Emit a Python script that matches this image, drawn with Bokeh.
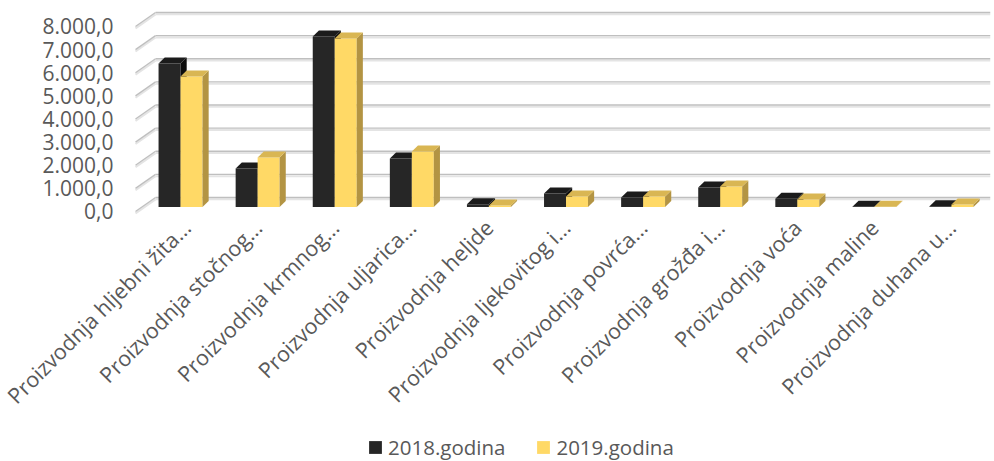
from bokeh.plotting import figure
from bokeh.layouts import column
from bokeh.models import FixedTicker, Legend, LegendItem
from bokeh.embed import file_html
from bokeh.resources import INLINE

# ---------------- data ----------------
categories = [
    "Proizvodnja hljebni žita...",
    "Proizvodnja stočnog...",
    "Proizvodnja krmnog...",
    "Proizvodnja uljarica...",
    "Proizvodnja heljde",
    "Proizvodnja ljekovitog i...",
    "Proizvodnja povrća...",
    "Proizvodnja grožđa i...",
    "Proizvodnja voća",
    "Proizvodnja maline",
    "Proizvodnja duhana u...",
]
values_2018 = [6200, 1660, 7370, 2100, 120, 580, 410, 840, 360, 10, 30]
values_2019 = [5640, 2140, 7290, 2400, 60, 450, 450, 890, 320, 15, 110]
series_names = ["2018.godina", "2019.godina"]
y_ticks = [0, 1000, 2000, 3000, 4000, 5000, 6000, 7000, 8000]
y_tick_labels = ["0,0", "1.000,0", "2.000,0", "3.000,0", "4.000,0",
                 "5.000,0", "6.000,0", "7.000,0", "8.000,0"]

# ---------------- style ----------------
FONT = "Open Sans"
TXT = "#595959"
BAR_W = 0.285        # bar width in category units
DX = 0.08            # 3D depth offset (x, category units)
DY = 260             # 3D depth offset (y, value units)
FLOOR = 195          # front face floor lift relative to wall front
WALL_DY = 605        # back-wall lift
WALL_X0, WALL_X1 = -0.584, -0.324
X0, X1 = -0.597, 10.506

front_colors = ["#262626", "#FFD966"]
side_colors = ["#0d0d0d", "#B39443"]
top_colors = ["#1b1b1b", "#D9B653"]

p = figure(width=994, height=423, x_range=(X0, X1), y_range=(-173, 8951),
           output_backend="svg", toolbar_location=None,
           min_border_left=134, min_border_right=4, min_border_top=4,
           min_border_bottom=208, outline_line_color=None)
p.xgrid.visible = False
p.ygrid.visible = False

# back wall gridlines + left wall diagonals
gx0 = [WALL_X0] * len(y_ticks)
gx1 = [WALL_X1] * len(y_ticks)
gxe = [X1] * len(y_ticks)
gy_front = list(y_ticks)
gy_back = [t + WALL_DY for t in y_ticks]
gy_back_l = [t + WALL_DY - 80 for t in y_ticks]
gy_front_l = [t - 80 for t in y_ticks]
p.segment(x0=gx1, y0=gy_back_l, x1=gxe, y1=gy_back_l, line_color="#e4e4e4", line_width=2)
p.segment(x0=gx0, y0=gy_front_l, x1=gx1, y1=gy_back_l, line_color="#e4e4e4", line_width=2)
p.segment(x0=gx1, y0=gy_back, x1=gxe, y1=gy_back, line_color="#bfbfbf", line_width=1.4)
p.segment(x0=gx0, y0=gy_front, x1=gx1, y1=gy_back, line_color="#bfbfbf", line_width=1.4)

# legend strip (aligned with main frame by the column layout)
pl = figure(width=994, height=38, x_range=(0, 1), y_range=(0, 1),
            output_backend="svg", toolbar_location=None,
            min_border=0, outline_line_color=None)
pl.axis.visible = False
pl.grid.visible = False

leg_r = []
for k, vals in enumerate([values_2018, values_2019]):
    left = [i - BAR_W + k * BAR_W for i in range(len(vals))]
    right = [l + BAR_W for l in left]
    bottom = [FLOOR] * len(vals)
    top = [v + FLOOR for v in vals]
    p.quad(left=left, right=right, bottom=bottom, top=top,
           fill_color=front_colors[k], line_color=None)
    side_xs = [[rr, rr + DX, rr + DX, rr] for rr in right]
    side_ys = [[b, b + DY, t + DY, t] for b, t in zip(bottom, top)]
    p.patches(xs=side_xs, ys=side_ys, fill_color=side_colors[k], line_color=None)
    top_xs = [[l, rr, rr + DX, l + DX] for l, rr in zip(left, right)]
    top_ys = [[t, t, t + DY, t + DY] for t in top]
    p.patches(xs=top_xs, ys=top_ys, fill_color=top_colors[k], line_color=None)
    # same bars in the legend strip, outside its visible range: only the legend swatch shows
    leg_r.append(pl.quad(left=left, right=right, bottom=bottom, top=top,
                         fill_color=front_colors[k], line_color=None))

# axes
p.yaxis.ticker = FixedTicker(ticks=y_ticks)
p.yaxis.major_label_overrides = {t: s for t, s in zip(y_ticks, y_tick_labels)}
p.yaxis.axis_line_color = None
p.yaxis.major_tick_line_color = None
p.yaxis.minor_tick_line_color = None
p.yaxis.major_tick_out = 0
p.yaxis.major_tick_in = 0
p.yaxis.major_label_standoff = 21
p.yaxis.major_label_text_font = FONT
p.yaxis.major_label_text_font_size = "21px"
p.yaxis.major_label_text_color = TXT

x_ticks = list(range(len(categories)))
p.xaxis.ticker = FixedTicker(ticks=x_ticks)
p.xaxis.major_label_overrides = {i: c for i, c in zip(x_ticks, categories)}
p.xaxis.major_label_orientation = 0.785398
p.xaxis.axis_line_color = None
p.xaxis.major_tick_line_color = None
p.xaxis.minor_tick_line_color = None
p.xaxis.major_tick_out = 0
p.xaxis.major_tick_in = 0
p.xaxis.major_label_standoff = 8
p.xaxis.major_label_text_font = FONT
p.xaxis.major_label_text_font_size = "21.5px"
p.xaxis.major_label_text_color = TXT

legend = Legend(items=[LegendItem(label=series_names[k], renderers=[leg_r[k]]) for k in range(2)],
                orientation="horizontal", location=(233, 0),
                padding=0, margin=0, spacing=30, label_standoff=5,
                glyph_width=16, glyph_height=16, label_height=20,
                label_text_font=FONT, label_text_font_size="20.5px",
                label_text_color=TXT, border_line_color=None,
                background_fill_alpha=0)
pl.add_layout(legend, "center")

layout = column(p, pl, spacing=0)
open("out.html", "w").write(file_html(layout, INLINE))
